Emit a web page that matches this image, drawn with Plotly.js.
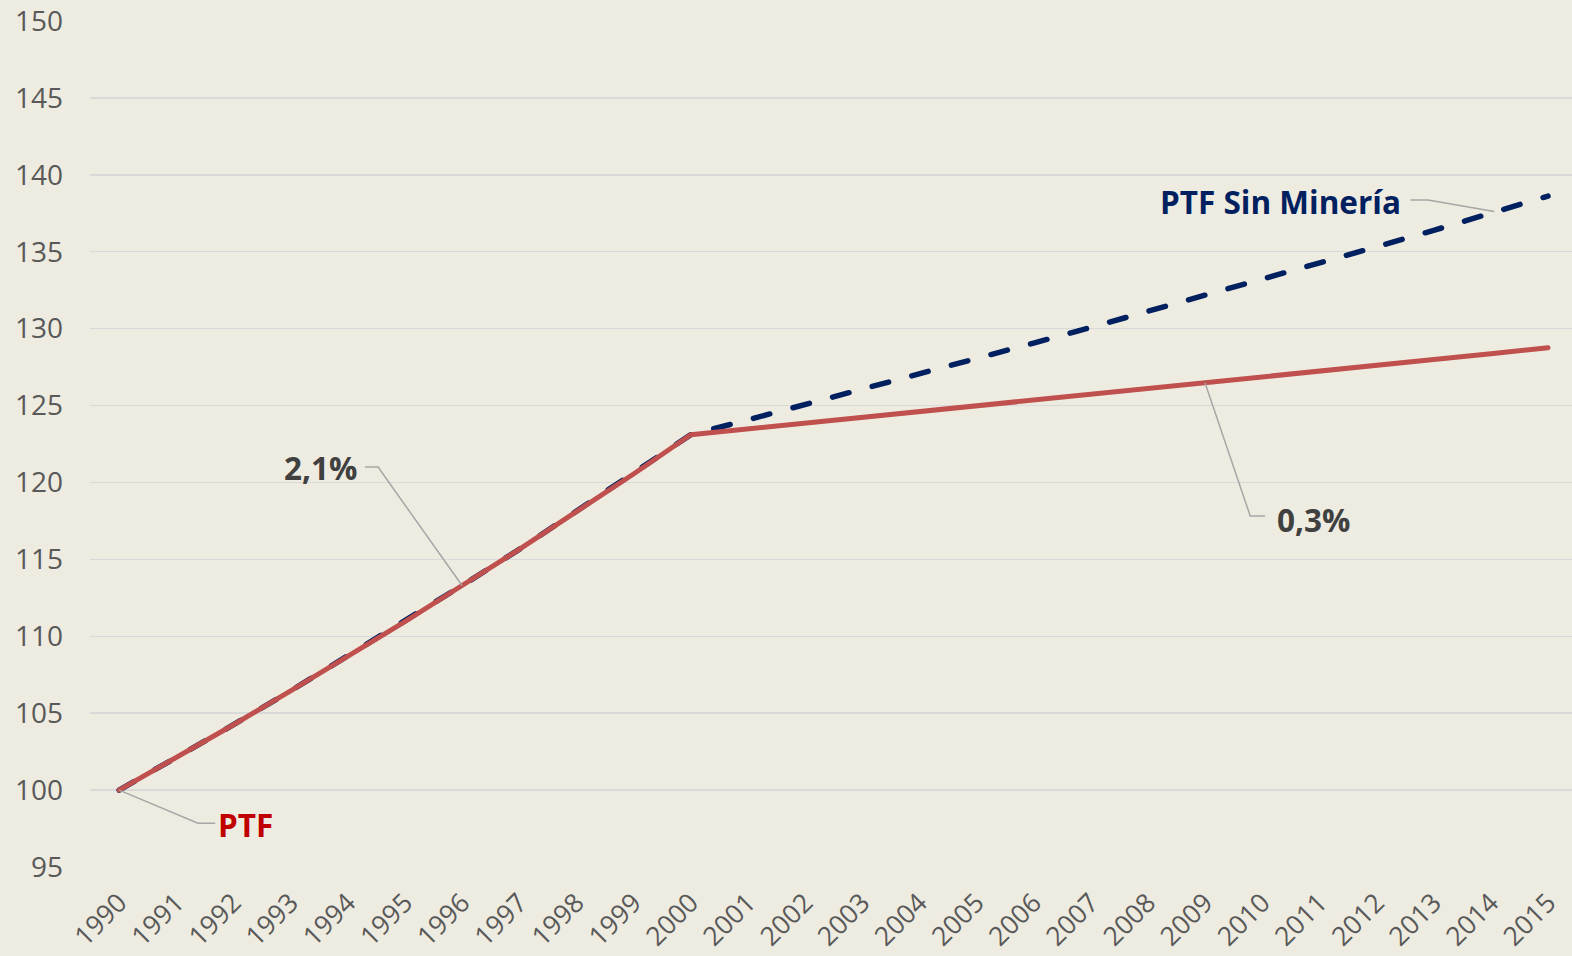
<!DOCTYPE html>
<html>
<head>
<meta charset="utf-8">
<script src="https://cdn.plot.ly/plotly-3.0.1.min.js"></script>
<style>
  html, body { margin: 0; padding: 0; background: #EEECE1; }
  #chart { width: 1572px; height: 956px; }
  .scatterlayer path.js-line { stroke-linecap: round !important; stroke-linejoin: round !important; }
</style>
</head>
<body>
<div id="chart"></div>
<script>
// ---- data ----
const years = [1990,1991,1992,1993,1994,1995,1996,1997,1998,1999,2000,2001,2002,2003,2004,2005,2006,2007,2008,2009,2010,2011,2012,2013,2014,2015];
const ptf = [100.0,102.1,104.25,106.45,108.7,110.95,113.3,115.65,118.1,120.55,123.1,123.47,123.84,124.21,124.58,124.96,125.33,125.71,126.08,126.46,126.84,127.22,127.6,127.99,128.37,128.76];
const ptfSinMineria = [100.0,102.1,104.25,106.45,108.7,110.95,113.3,115.65,118.1,120.55,123.1,124.07,125.05,126.04,127.04,128.05,129.06,130.08,131.11,132.15,133.2,134.25,135.32,136.39,137.5,138.62];
const yTicks = [95,100,105,110,115,120,125,130,135,140,145,150];
const seriesNames = ["PTF Sin Minería", "PTF"];
const labelTexts = ["PTF", "2,1%", "0,3%", "PTF Sin Minería"];

// ---- styling / label placement ----
const FONT = "Open Sans, Noto Sans, sans-serif";
const labels = [
  {text: labelTexts[0], color: "#C00000", x: 1991.7, y: 97.75, xanchor: "left",
   leader: [[1990, 100], [1991.38, 97.85], [1991.68, 97.85]]},
  {text: labelTexts[1], color: "#404040", x: 1994.2, y: 120.95, xanchor: "right",
   leader: [[1996.0, 113.3], [1994.53, 121.0], [1994.30, 121.0]]},
  {text: labelTexts[2], color: "#404040", x: 2010.23, y: 117.6, xanchor: "left",
   leader: [[2009.0, 126.46], [2009.79, 117.82], [2010.05, 117.82]]},
  {text: labelTexts[3], color: "#002060", x: 2012.47, y: 138.25, xanchor: "right",
   leader: [[2014.06, 137.62], [2012.9, 138.36], [2012.59, 138.36]]}
];

const traces = [
  {x: years, y: ptfSinMineria, name: seriesNames[0], type: "scatter", mode: "lines",
   line: {color: "#002060", width: 5.5, dash: "17px,24px"}, cliponaxis: false, hoverinfo: "x+y"},
  {x: years, y: ptf, name: seriesNames[1], type: "scatter", mode: "lines",
   line: {color: "#C0504D", width: 5}, cliponaxis: false, hoverinfo: "x+y"}
];

const annotations = labels.map(l => ({
  x: l.x, y: l.y, xref: "x", yref: "y", text: l.text, showarrow: false,
  xanchor: l.xanchor, yanchor: "middle",
  font: {family: FONT, size: 31.5, color: l.color, weight: "bold"}
}));

const shapes = labels.map(l => ({
  type: "path", xref: "x", yref: "y",
  path: "M " + l.leader.map(p => p[0] + "," + p[1]).join(" L "),
  line: {color: "#A6A6A6", width: 1.5}
}));

const layout = {
  width: 1572, height: 956,
  paper_bgcolor: "#EEECE1", plot_bgcolor: "#EEECE1",
  margin: {l: 90, r: 0, t: 21, b: 89, pad: 0},
  showlegend: false,
  font: {family: FONT, color: "#595959"},
  xaxis: {
    range: [1989.49, 2015.42],
    tickvals: years, ticktext: years.map(String), tickangle: -45,
    tickfont: {family: FONT, size: 26.5, color: "#595959"},
    showgrid: false, zeroline: false, showline: false, ticks: "",
    ticklabelstandoff: 14, fixedrange: true
  },
  yaxis: {
    range: [95, 150], tickvals: yTicks, ticktext: yTicks.map(String),
    tickfont: {family: FONT, size: 28, color: "#595959"},
    showgrid: true, gridcolor: "#D9D9D9", gridwidth: 1.5,
    zeroline: false, showline: false, ticks: "",
    ticklabelstandoff: 26, fixedrange: true
  },
  annotations: annotations,
  shapes: shapes
};

Plotly.newPlot("chart", traces, layout, {displayModeBar: false, staticPlot: true});
</script>
</body>
</html>
